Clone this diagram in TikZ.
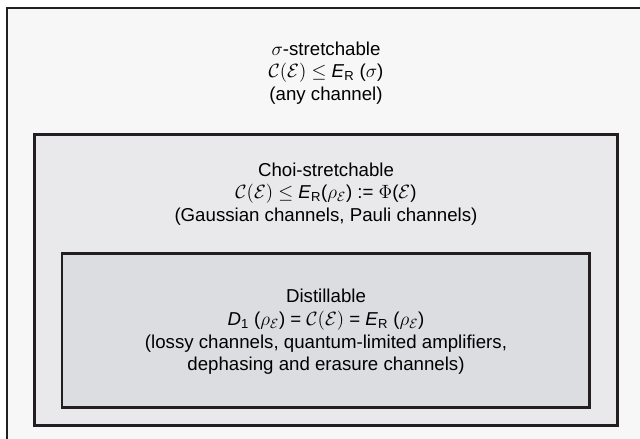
\documentclass[tikz,border=0pt]{standalone}
\usepackage{fontspec}
\setmainfont{Liberation Sans}
\usepackage{amsmath}
\tikzset{>=latex}
\definecolor{outerfill}{HTML}{F7F7F7}
\definecolor{midfill}{HTML}{E9E9EB}
\definecolor{innerfill}{HTML}{DCDDE0}
\definecolor{edge}{HTML}{231F20}
\newcommand{\ERel}{\textit{E}\textsubscript{R}}
\newcommand{\chan}{$\mathcal{C}(\mathcal{E})$}

\begin{document}
\begin{tikzpicture}[x=0.75pt, y=-0.75pt,
		setbox/.style={draw=edge, line width=2pt},
		label/.style={align=center, font=\fontsize{14}{17}\selectfont}]

		\useasboundingbox (0,0) rectangle (640,439);

		% Boxes
		\draw[setbox, fill=outerfill] (7,8) rectangle (660,460);
		\draw[setbox, fill=midfill] (34.7,134.3) rectangle (617.3,425.5);
		\draw[setbox, fill=innerfill] (62,253.7) rectangle (589.7,407.5);

		% Labels
		\node[label] (sigma) at (326,73) {$\sigma$-stretchable\\
			\chan{} $\leq$ \ERel{} ($\sigma$)\\
			(any channel)};
		\node[label] (choi) at (326,194) {Choi-stretchable\\
			\chan{} $\leq$ \ERel($\rho_{\mathcal{E}}$) := $\Phi$($\mathcal{E}$)\\
			(Gaussian channels, Pauli channels)};
		\node[label] (distill) at (326,332) {Distillable\\
			\textit{D}\textsubscript{1} ($\rho_{\mathcal{E}}$) = \chan{} = \ERel{} ($\rho_{\mathcal{E}}$)\\
			(lossy channels, quantum-limited amplifiers,\\
			dephasing and erasure channels)};

	\end{tikzpicture}
\end{document}
